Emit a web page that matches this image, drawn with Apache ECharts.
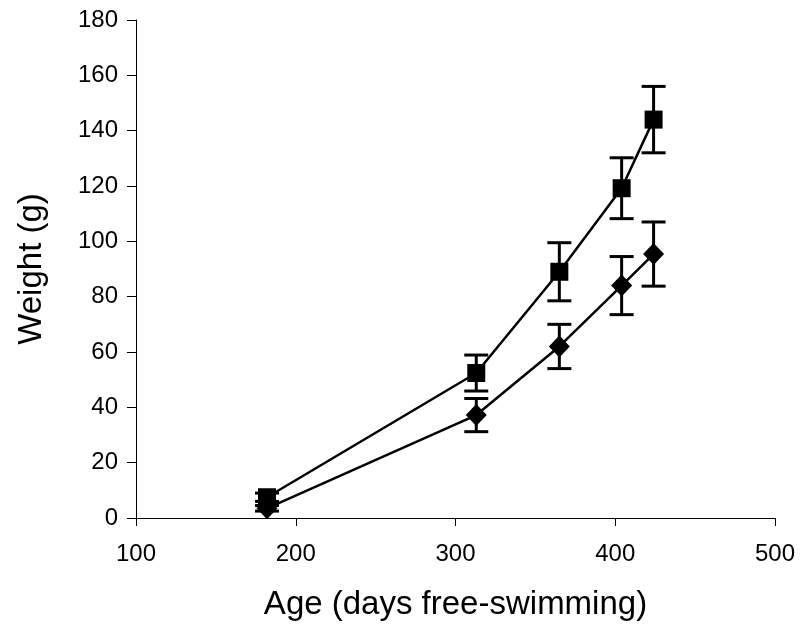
<!DOCTYPE html>
<html>
<head>
<meta charset="utf-8">
<script src="https://cdn.jsdelivr.net/npm/echarts@6/dist/echarts.min.js"></script>
<style>
  html, body { margin: 0; padding: 0; background: #fff; }
  #chart { width: 803px; height: 638px; }
</style>
</head>
<body>
<div id="chart"></div>
<script>
// Fish growth: mean weight with error bars for two groups
const days = [182, 313, 365, 404, 424];
const squareMean = [7.5, 52.4, 89, 119.2, 144];
const squareErr = [1.5, 6.5, 10.5, 11, 12];
const diamondMean = [3.5, 37.2, 62, 84, 95.4];
const diamondErr = [1, 6, 8, 10.5, 11.6];
const xTicks = [100, 200, 300, 400, 500];
const yTicks = [0, 20, 40, 60, 80, 100, 120, 140, 160, 180];

const FONT = '"Liberation Sans", Arial, sans-serif';

function errData(mean, err) {
  return days.map((d, i) => [d, mean[i] - err[i], mean[i] + err[i]]);
}

function errorBarItem(params, api) {
  const x = api.value(0);
  const lo = api.coord([x, api.value(1)]);
  const hi = api.coord([x, api.value(2)]);
  const half = 12;
  const style = { stroke: '#000', lineWidth: 3 };
  return {
    type: 'group',
    children: [
      { type: 'line', shape: { x1: lo[0], y1: lo[1], x2: hi[0], y2: hi[1] }, style },
      { type: 'line', shape: { x1: hi[0] - half, y1: hi[1], x2: hi[0] + half, y2: hi[1] }, style },
      { type: 'line', shape: { x1: lo[0] - half, y1: lo[1], x2: lo[0] + half, y2: lo[1] }, style }
    ]
  };
}

const chart = echarts.init(document.getElementById('chart'), null, { renderer: 'canvas' });
chart.setOption({
  animation: false,
  backgroundColor: '#fff',
  grid: { left: 136, right: 28, top: 20, bottom: 120 },
  xAxis: {
    type: 'value',
    min: xTicks[0], max: xTicks[xTicks.length - 1], interval: 100,
    name: 'Age (days free-swimming)',
    nameLocation: 'middle', nameGap: 70,
    nameTextStyle: { fontFamily: FONT, fontSize: 33, color: '#000' },
    axisLine: { lineStyle: { color: '#000', width: 1 } },
    axisTick: { show: true, inside: false, length: 8, lineStyle: { color: '#000' } },
    axisLabel: { fontFamily: FONT, fontSize: 24, color: '#000', margin: 24 },
    splitLine: { show: false }
  },
  yAxis: {
    type: 'value',
    min: yTicks[0], max: yTicks[yTicks.length - 1], interval: 20,
    name: 'Weight (g)',
    nameLocation: 'middle', nameGap: 88, nameRotate: 90,
    nameTextStyle: { fontFamily: FONT, fontSize: 33, color: '#000' },
    axisLine: { show: true, lineStyle: { color: '#000', width: 1 } },
    axisTick: { show: true, inside: false, length: 9, lineStyle: { color: '#000' } },
    axisLabel: { fontFamily: FONT, fontSize: 24, color: '#000', margin: 18 },
    splitLine: { show: false }
  },
  series: [
    {
      type: 'custom', renderItem: errorBarItem,
      data: errData(squareMean, squareErr), z: 2
    },
    {
      type: 'custom', renderItem: errorBarItem,
      data: errData(diamondMean, diamondErr), z: 2
    },
    {
      type: 'line',
      data: days.map((d, i) => [d, squareMean[i]]),
      symbol: 'rect', symbolSize: 18,
      lineStyle: { color: '#000', width: 2.5 },
      itemStyle: { color: '#000' },
      z: 3
    },
    {
      type: 'line',
      data: days.map((d, i) => [d, diamondMean[i]]),
      symbol: 'diamond', symbolSize: [21, 22],
      lineStyle: { color: '#000', width: 2.5 },
      itemStyle: { color: '#000' },
      z: 3
    }
  ]
});
</script>
</body>
</html>
